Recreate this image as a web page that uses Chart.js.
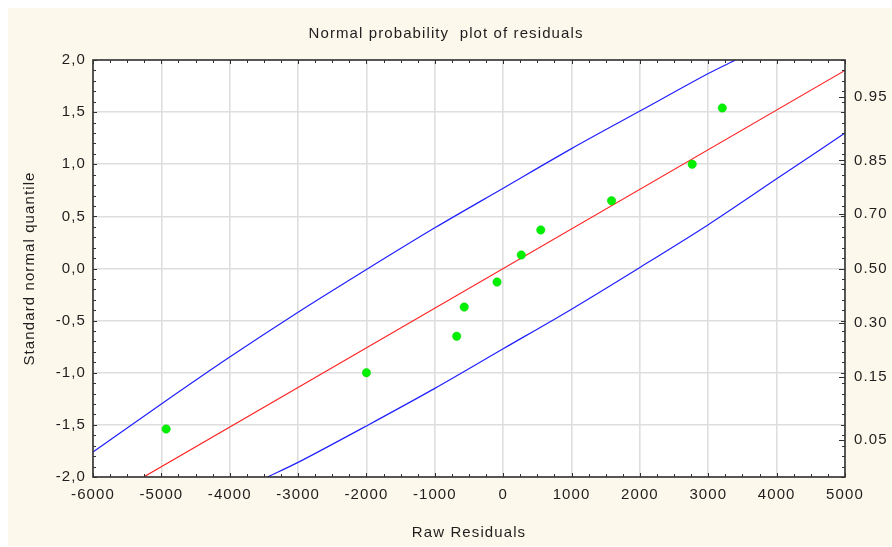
<!DOCTYPE html>
<html>
<head>
<meta charset="utf-8">
<script src="https://cdn.jsdelivr.net/npm/chart.js@4.4.1/dist/chart.umd.min.js"></script>
<style>
html,body{margin:0;padding:0;background:#ffffff;}
#wrap{width:892px;height:547px;}
</style>
</head>
<body>
<div id="wrap"><canvas id="c" width="892" height="547"></canvas></div>
<script>
// ---- data ----
const chartTitle = 'Normal probability  plot of residuals';
const xAxisTitle = 'Raw Residuals';
const yAxisTitle = 'Standard normal quantile';

const residuals       = [-4930, -2000, -680, -570, -90, 265, 550, 1585, 2765, 3205];
const normalQuantiles = [-1.54, -1.00, -0.65, -0.37, -0.13, 0.13, 0.37, 0.65, 1.00, 1.54];

const fitLineX = [-5260, 5000];
const fitLineY = [-2.00, 1.90];

const upperBandX = [-6000, -5000, -4000, -3000, -2000, -1000, 0, 1000, 2000, 3000, 3400];
const upperBandY = [-1.76, -1.30, -0.85, -0.42, -0.01, 0.39, 0.77, 1.15, 1.51, 1.87, 2.00];

const lowerBandX = [-3450, -3000, -2000, -1000, 0, 1000, 2000, 3000, 4000, 5000];
const lowerBandY = [-2.00, -1.86, -1.51, -1.15, -0.77, -0.39, 0.01, 0.42, 0.86, 1.30];

const xTickValues = [-6000, -5000, -4000, -3000, -2000, -1000, 0, 1000, 2000, 3000, 4000, 5000];
const yTickValues = [-2.0, -1.5, -1.0, -0.5, 0.0, 0.5, 1.0, 1.5, 2.0];
const probLabels    = ['0.05', '0.15', '0.30', '0.50', '0.70', '0.85', '0.95'];
const probQuantiles = [-1.645, -1.036, -0.524, 0, 0.524, 1.036, 1.645];

// ---- helpers ----
const zip = (xs, ys) => xs.map((x, i) => ({x: x, y: ys[i]}));
const FONT = "'Liberation Sans', Arial, sans-serif";
const TXT = '#1e1e1e';
const SPACING = '1.1px';

const spacingPlugin = {
  id: 'spacing',
  beforeLayout(chart) { chart.ctx.letterSpacing = SPACING; },
  beforeDraw(chart) { chart.ctx.letterSpacing = SPACING; }
};

const framePlugin = {
  id: 'frame',
  beforeDraw(chart) {
    const {ctx, chartArea: a} = chart;
    ctx.save();
    ctx.fillStyle = '#fdf8ec';
    ctx.fillRect(8, 8, chart.width - 8, chart.height - 9);
    ctx.fillStyle = '#ffffff';
    ctx.fillRect(a.left, a.top, a.right - a.left, a.bottom - a.top);
    ctx.restore();
  },
  afterDraw(chart) {
    const {ctx, chartArea: a, scales} = chart;
    const xs = scales.x, ys = scales.y, yr = scales.yR;
    ctx.save();
    ctx.strokeStyle = '#303030';
    ctx.lineWidth = 1;
    ctx.beginPath();
    for (let v = xs.min; v <= xs.max + 1e-6; v += 250) {
      const px = Math.round(xs.getPixelForValue(v)) + 0.5;
      const len = (Math.abs(v % 1000) < 1e-6) ? 4 : 3;
      ctx.moveTo(px, a.bottom); ctx.lineTo(px, a.bottom - len);
      ctx.moveTo(px, a.top); ctx.lineTo(px, a.top + len);
    }
    for (let k = -20; k <= 20; k++) {
      const v = k / 10;
      const py = Math.round(ys.getPixelForValue(v)) + 0.5;
      const len = (k % 5 === 0) ? 4 : 3;
      ctx.moveTo(a.left, py); ctx.lineTo(a.left + len, py);
      ctx.moveTo(a.right, py); ctx.lineTo(a.right - len, py);
    }
    probQuantiles.forEach(q => {
      const py = Math.round(yr.getPixelForValue(q)) + 0.5;
      ctx.moveTo(a.right, py); ctx.lineTo(a.right - 6, py);
    });
    ctx.stroke();
    ctx.strokeStyle = '#333333';
    ctx.lineWidth = 1.6;
    ctx.strokeRect(a.left, a.top, a.right - a.left, a.bottom - a.top);
    ctx.restore();
  }
};

new Chart(document.getElementById('c'), {
  type: 'scatter',
  data: {
    datasets: [
      {
        label: 'Residuals',
        data: zip(residuals, normalQuantiles),
        backgroundColor: '#00f000',
        borderColor: '#00d800',
        borderWidth: 0.5,
        pointRadius: 4.2,
        pointHoverRadius: 4.2
      },
      {
        label: 'Fit',
        data: zip(fitLineX, fitLineY),
        showLine: true,
        borderColor: '#ff2020',
        borderWidth: 1.2,
        pointRadius: 0,
        fill: false
      },
      {
        label: 'Upper',
        data: zip(upperBandX, upperBandY),
        showLine: true,
        borderColor: '#2020ff',
        borderWidth: 1.2,
        pointRadius: 0,
        tension: 0.3,
        fill: false
      },
      {
        label: 'Lower',
        data: zip(lowerBandX, lowerBandY),
        showLine: true,
        borderColor: '#2020ff',
        borderWidth: 1.2,
        pointRadius: 0,
        tension: 0.3,
        fill: false
      }
    ]
  },
  options: {
    responsive: false,
    devicePixelRatio: 1,
    animation: false,
    layout: {padding: 0},
    plugins: {
      legend: {display: false},
      tooltip: {enabled: false},
      title: {
        display: true,
        text: chartTitle,
        color: TXT,
        font: {family: FONT, size: 15, weight: 'normal', lineHeight: 1.2},
        padding: {top: 25, bottom: 17}
      }
    },
    scales: {
      x: {
        type: 'linear',
        position: 'bottom',
        min: xTickValues[0],
        max: xTickValues[xTickValues.length - 1],
        afterBuildTicks: s => { s.ticks = xTickValues.map(v => ({value: v})); },
        afterFit: s => { s.height = 70; },
        border: {display: false},
        grid: {color: '#dedede', lineWidth: 1.6, drawTicks: false},
        ticks: {
          color: TXT,
          font: {family: FONT, size: 15},
          padding: 9,
          maxRotation: 0,
          autoSkip: false,
          callback: v => String(v)
        },
        title: {
          display: true,
          text: xAxisTitle,
          color: TXT,
          font: {family: FONT, size: 15, lineHeight: 1.2},
          padding: {top: 0, bottom: 5}
        }
      },
      y: {
        type: 'linear',
        position: 'left',
        min: -2,
        max: 2,
        afterBuildTicks: s => { s.ticks = yTickValues.map(v => ({value: v})); },
        afterFit: s => { s.width = 93; },
        border: {display: false},
        grid: {color: '#dedede', lineWidth: 1.6, drawTicks: false},
        ticks: {
          color: TXT,
          font: {family: FONT, size: 15},
          padding: 7,
          autoSkip: false,
          callback: v => v.toFixed(1).replace('.', ',')
        },
        title: {
          display: true,
          text: yAxisTitle,
          color: TXT,
          font: {family: FONT, size: 15, lineHeight: 1.2},
          padding: {top: 21, bottom: 0}
        }
      },
      yR: {
        type: 'linear',
        position: 'right',
        min: -2,
        max: 2,
        afterBuildTicks: s => { s.ticks = probQuantiles.map(v => ({value: v})); },
        afterFit: s => { s.width = 47; },
        border: {display: false},
        grid: {display: false, drawTicks: false},
        ticks: {
          color: TXT,
          font: {family: FONT, size: 15},
          padding: 9,
          autoSkip: false,
          callback: (v, i) => probLabels[i]
        }
      }
    }
  },
  plugins: [spacingPlugin, framePlugin]
});
</script>
</body>
</html>
